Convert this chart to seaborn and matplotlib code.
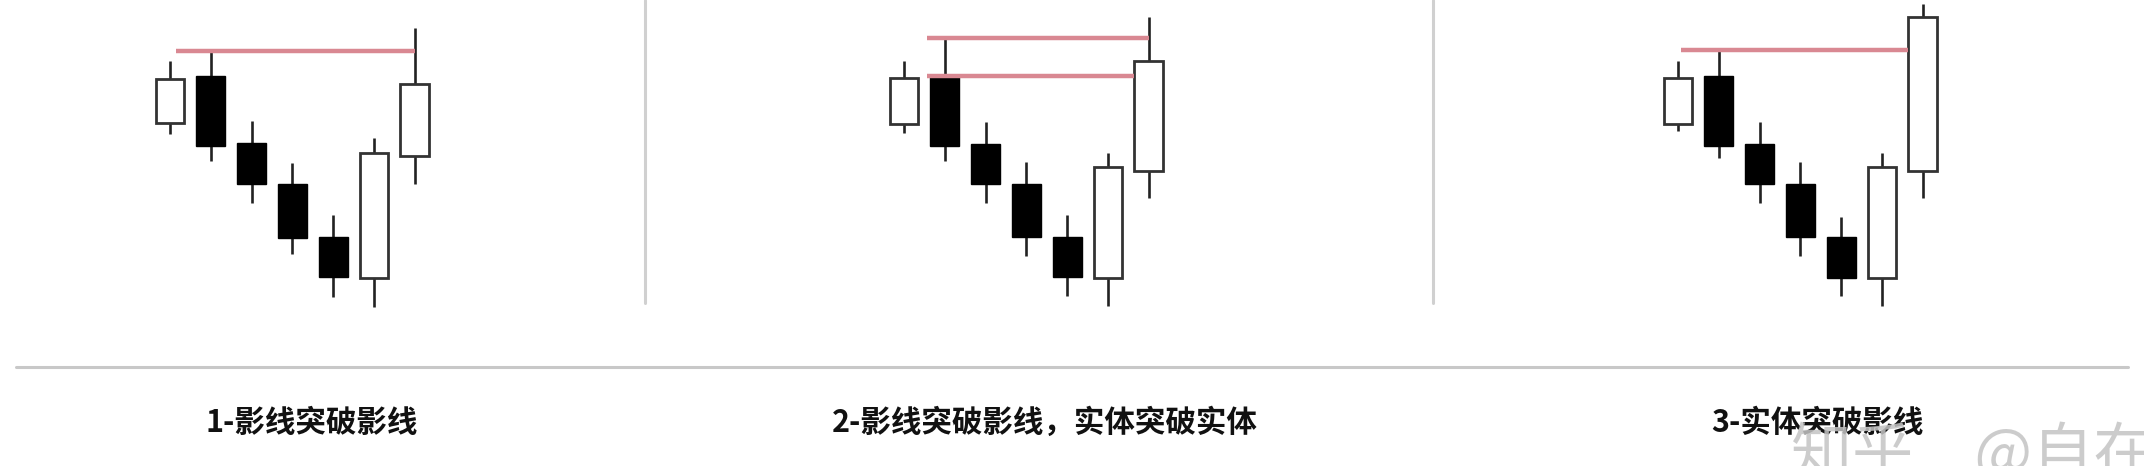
import matplotlib
matplotlib.use("Agg")
import matplotlib.pyplot as plt
from matplotlib.lines import Line2D
import seaborn as sns
import pandas as pd

# ---------------- data (price units) ----------------
labels = ["1-影线突破影线", "2-影线突破影线，实体突破实体", "3-实体突破影线"]
watermark = "知乎　@自在"

p1_open  = [18.7, 23.4, 16.7, 12.6, 7.3, 3.2, 15.4]
p1_close = [23.1, 16.4, 12.6, 7.2, 3.3, 15.7, 22.6]
p1_high  = [24.9, 25.9, 18.9, 14.7, 9.5, 17.2, 28.2]
p1_low   = [17.6, 14.9, 10.7, 5.6, 1.3, 0.3, 12.6]

p2_open  = [18.6, 23.4, 16.6, 12.6, 7.3, 3.2, 13.9]
p2_close = [23.2, 16.4, 12.6, 7.3, 3.3, 14.3, 24.9]
p2_high  = [24.9, 27.2, 18.8, 14.8, 9.5, 15.7, 29.3]
p2_low   = [17.7, 14.9, 10.7, 5.4, 1.4, 0.4, 11.2]

p3_open  = [18.6, 23.4, 16.6, 12.6, 7.3, 3.2, 13.9]
p3_close = [23.2, 16.4, 12.6, 7.3, 3.2, 14.3, 29.3]
p3_high  = [24.9, 26.0, 18.8, 14.8, 9.3, 15.7, 30.6]
p3_low   = [17.9, 15.2, 10.7, 5.4, 1.4, 0.4, 11.2]

# break levels (red reference lines)
p1_levels = [25.9]
p2_levels = [27.2, 23.4]
p3_levels = [26.0]

# ---------------- style ----------------
sns.set_theme(style="white")
plt.rcParams["font.family"] = ["Noto Sans CJK SC", "DejaVu Sans"]

W, H = 2144, 466
fig = plt.figure(figsize=(W / 100, H / 100), dpi=100)
fig.patch.set_facecolor("white")

BODY_W = 0.71
RED = "#d98892"
EDGE = "#333333"


def draw_panel(ax, o, c, h, l, levels, starts, ends):
    df = pd.DataFrame({"open": o, "close": c, "high": h, "low": l})
    df["idx"] = range(len(df))
    up = df["close"] >= df["open"]
    # wicks
    ax.vlines(df["idx"], df["low"], df["high"], color="#222222", lw=1.9, zorder=1)
    # bodies
    bottoms = df[["open", "close"]].min(axis=1)
    heights = (df["close"] - df["open"]).abs()
    ax.bar(df["idx"][up], heights[up], bottom=bottoms[up], width=BODY_W,
           facecolor="white", edgecolor=EDGE, linewidth=2.0, zorder=2)
    ax.bar(df["idx"][~up], heights[~up], bottom=bottoms[~up], width=BODY_W,
           facecolor="black", edgecolor="black", linewidth=1.0, zorder=2)
    # breakthrough reference lines
    for lv, xs, xe in zip(levels, starts, ends):
        ax.hlines(lv, xs, xe, color=RED, lw=3.2, zorder=3)
    ax.set_xlim(-0.5, len(df) - 0.5)
    ax.set_ylim(0, 31)
    ax.axis("off")


lefts = [149.6, 883.6, 1657.6]
panels = [
    (p1_open, p1_close, p1_high, p1_low, p1_levels, [0.15], [6.0]),
    (p2_open, p2_close, p2_high, p2_low, p2_levels, [0.56, 0.56], [6.0, 6 - BODY_W / 2]),
    (p3_open, p3_close, p3_high, p3_low, p3_levels, [0.07], [6 - BODY_W / 2]),
]
for left, args in zip(lefts, panels):
    ax = fig.add_axes([left / W, (H - 310) / H, 285.6 / W, 310 / H])
    draw_panel(ax, *args)

# separators
for xp in [645, 1433]:
    fig.add_artist(Line2D([xp / W, xp / W], [1.0, (H - 303) / H],
                          color="#d0d0d0", lw=2.2, transform=fig.transFigure))
fig.add_artist(Line2D([16 / W, 2128 / W], [(H - 367) / H, (H - 367) / H],
                      color="#c8c8c8", lw=2.2, transform=fig.transFigure))

# captions
for xc, lab in zip([312, 1045, 1817], labels):
    fig.text(xc / W, (H - 423) / H, lab, ha="center", va="center",
             fontsize=22, fontweight="bold", color="#111111")

# watermark
fig.text(1791 / W, (H - 424) / H, watermark, ha="left", va="top",
         fontsize=44, color="#c4c4c4", alpha=0.85)

fig.savefig("out.png", dpi=100, facecolor="white")
